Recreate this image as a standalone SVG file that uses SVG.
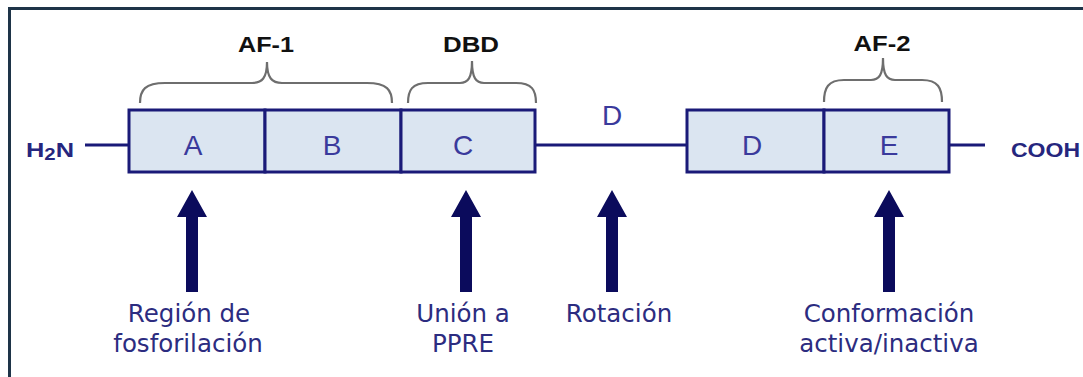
<svg xmlns="http://www.w3.org/2000/svg" width="1083" height="377" viewBox="0 0 1083 377">
<defs>
<style>
.frame{fill:none;stroke:#1e3448;stroke-width:3}
.box{fill:#dbe5f1;stroke:#1a1a78;stroke-width:3}
.line{stroke:#1a1a78;stroke-width:3;fill:none}
.brace{fill:none;stroke:#6e6e6e;stroke-width:2.2}
.arrow{fill:#0b0b5c}
.seg{font-family:"Liberation Sans",Arial,sans-serif;font-size:28px;fill:#3a3a9c;text-anchor:middle}
.hdr{font-family:"Liberation Sans",Arial,sans-serif;font-weight:bold;font-size:22px;fill:#111;text-anchor:middle}
.term{font-family:"Liberation Sans",Arial,sans-serif;font-weight:bold;font-size:20px;fill:#26267e}
.lbl{font-family:"DejaVu Sans",Verdana,sans-serif;font-size:24.5px;fill:#2c2c80;text-anchor:middle}
</style>
<path id="arr" d="M0,0 L15,27 L6,27 L6,102 L-6,102 L-6,27 L-15,27 Z"/>
</defs>
<rect class="frame" x="9.5" y="8.5" width="1100" height="400"/>
<g id="connectors">
<line class="line" x1="85" y1="145" x2="129" y2="145"/>
<line class="line" x1="535" y1="145" x2="687" y2="145"/>
<line class="line" x1="949" y1="145" x2="985" y2="145"/>
<use href="#arr" class="arrow" x="192" y="190"/>
<use href="#arr" class="arrow" x="466" y="190"/>
<use href="#arr" class="arrow" x="612" y="190"/>
<use href="#arr" class="arrow" x="889" y="190"/>
</g>
<g id="n-h2n"><text class="term" x="26" y="157" textLength="48" lengthAdjust="spacingAndGlyphs">H<tspan font-size="16" dy="3">2</tspan><tspan dy="-3">N</tspan></text></g>
<g id="n-cooh"><text class="term" x="1011" y="157" textLength="69" lengthAdjust="spacingAndGlyphs">COOH</text></g>
<g id="n-a"><rect class="box" x="129" y="110" width="136" height="62"/><text class="seg" x="193" y="155">A</text></g>
<g id="n-b"><rect class="box" x="265" y="110" width="136" height="62"/><text class="seg" x="332" y="155">B</text></g>
<g id="n-c"><rect class="box" x="401" y="110" width="134" height="62"/><text class="seg" x="463" y="155">C</text></g>
<g id="n-d-link"><text class="seg" x="612" y="125">D</text></g>
<g id="n-d"><rect class="box" x="687" y="110" width="137" height="62"/><text class="seg" x="752" y="155">D</text></g>
<g id="n-e"><rect class="box" x="824" y="110" width="125" height="62"/><text class="seg" x="889" y="155">E</text></g>
<g id="n-af1">
<path class="brace" d="M140,103 C140,90 145,83 165,83 L252,83 C262,83 267,78 267,62 C267,78 272,83 282,83 L367,83 C387,83 392,90 392,103"/>
<text class="hdr" x="266" y="52" textLength="56" lengthAdjust="spacingAndGlyphs">AF-1</text>
</g>
<g id="n-dbd">
<path class="brace" d="M408,103 C408,90 412,83 428,83 L460,83 C468,83 472,78 472,61 C472,78 476,83 484,83 L516,83 C532,83 536,90 536,103"/>
<text class="hdr" x="471" y="52" textLength="56" lengthAdjust="spacingAndGlyphs">DBD</text>
</g>
<g id="n-af2">
<path class="brace" d="M824,102 C824,88 828,80 844,80 L871,80 C879,80 883,75 883,58 C883,75 887,80 895,80 L922,80 C938,80 942,88 942,102"/>
<text class="hdr" x="882" y="51" textLength="57" lengthAdjust="spacingAndGlyphs">AF-2</text>
</g>
<g id="n-lbl1">
<text class="lbl" x="189" y="322">Región de</text>
<text class="lbl" x="188" y="352">fosforilación</text>
</g>
<g id="n-lbl2">
<text class="lbl" x="463" y="322">Unión a</text>
<text class="lbl" x="463" y="352">PPRE</text>
</g>
<g id="n-lbl3">
<text class="lbl" x="619" y="322">Rotación</text>
</g>
<g id="n-lbl4">
<text class="lbl" x="889" y="322">Conformación</text>
<text class="lbl" x="889" y="352">activa/inactiva</text>
</g>
</svg>
